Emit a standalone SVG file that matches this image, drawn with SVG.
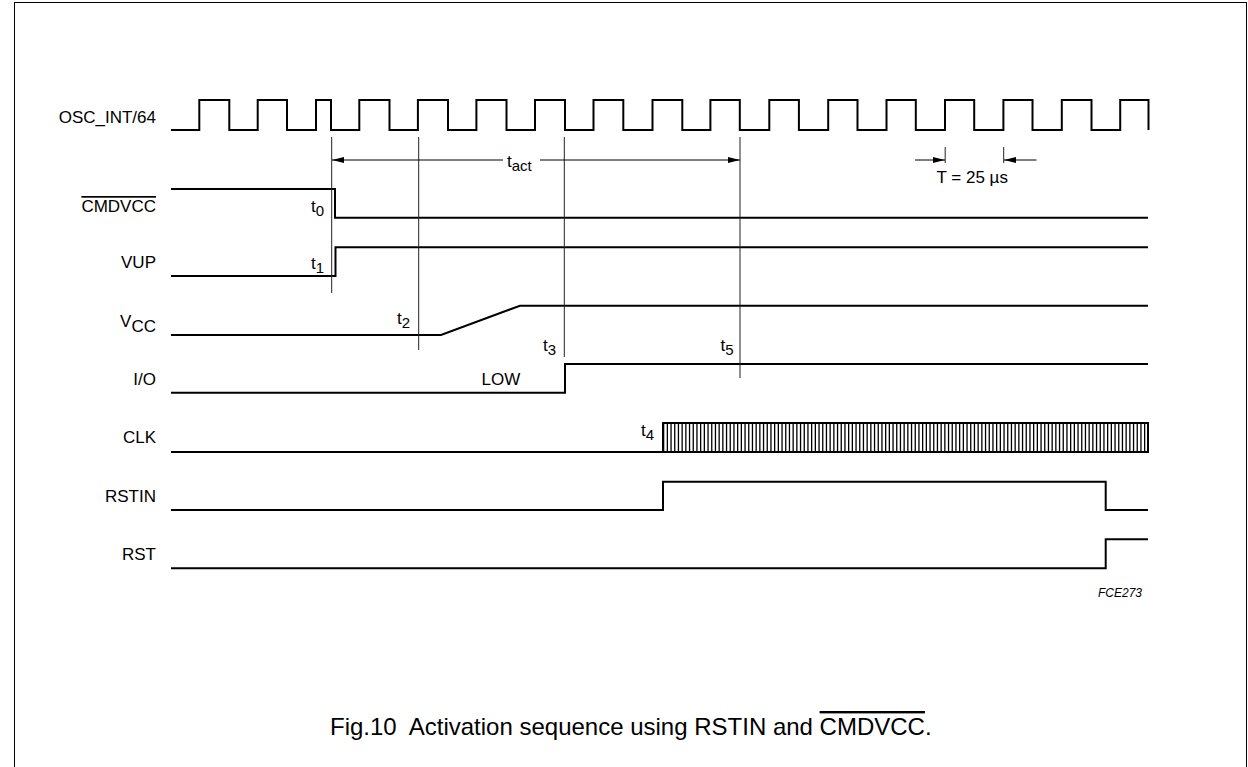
<svg xmlns="http://www.w3.org/2000/svg" width="1248" height="767" viewBox="0 0 1248 767">
<defs>
<style>
.sig{fill:none;stroke:#000;stroke-width:2;stroke-linejoin:miter}
.mk{fill:none;stroke:#222;stroke-width:1}
.lbl{font-family:"Liberation Sans",Arial,sans-serif;font-size:17px;fill:#000}
.r{text-anchor:end}
.ov{text-decoration:overline}
</style>
<marker id="ah" viewBox="0 0 12 6" refX="12" refY="3" markerWidth="12" markerHeight="6" markerUnits="userSpaceOnUse" orient="auto-start-reverse">
<path d="M0,0 L12,3 L0,6 Z" fill="#000"/>
</marker>
</defs>
<rect x="14.5" y="2.5" width="1232" height="800" fill="none" stroke="#000" stroke-width="1"/>

<g id="osc">
<text class="lbl r" x="156" y="123">OSC_INT/64</text>
<path class="sig" d="M171,130 H199.3 V100 H229.3 V130 H257.7 V100 H287 V130 H316 V100 H331 V130 H359.3 V100 H389.5 V130 H417.9 V100 H448 V130 H476.4 V100 H506.5 V130 H535 V100 H565 V130 H593.5 V100 H623.3 V130 H652.5 V100 H682.3 V130 H710.4 V100 H739.8 V130 H769.3 V100 H798.9 V130 H828.2 V100 H857.5 V130 H886.5 V100 H915.8 V130 H945 V100 H974.2 V130 H1003.4 V100 H1032.5 V130 H1061.8 V100 H1091.5 V130 H1120.2 V100 H1148.5 V130"/>
</g>

<g id="cmdvcc">
<text class="lbl r" x="156" y="212"><tspan class="ov">CMDVCC</tspan></text>
<path class="sig" d="M171,189 H335 V217.7 H1148"/>
<text class="lbl" x="311" y="212">t<tspan font-size="15" dy="4">0</tspan></text>
</g>

<g id="vup">
<text class="lbl r" x="156" y="268">VUP</text>
<path class="sig" d="M171,276 H335.5 V247.3 H1148"/>
<text class="lbl" x="311" y="269">t<tspan font-size="15" dy="4">1</tspan></text>
</g>

<g id="vcc">
<text class="lbl r" x="156" y="327">V<tspan dy="5">CC</tspan></text>
<path class="sig" d="M171,335 H441 L520,305.7 H1148"/>
<text class="lbl" x="397" y="324">t<tspan font-size="15" dy="4">2</tspan></text>
</g>

<g id="io">
<text class="lbl r" x="156" y="385">I/O</text>
<path class="sig" d="M171,392.7 H565 V364 H1148"/>
<text class="lbl" x="481.5" y="385">LOW</text>
<text class="lbl" x="543" y="351">t<tspan font-size="15" dy="4">3</tspan></text>
<text class="lbl" x="720.5" y="351">t<tspan font-size="15" dy="4">5</tspan></text>
</g>

<g id="clk">
<text class="lbl r" x="156" y="443">CLK</text>
<path class="sig" d="M171,452 H663"/>
<line x1="663" y1="437.5" x2="1148" y2="437.5" stroke="#000" stroke-width="29" stroke-dasharray="1.3 2.4"/>
<rect x="663" y="423" width="485" height="29" fill="none" stroke="#000" stroke-width="2"/>
<text class="lbl" x="641" y="436">t<tspan font-size="15" dy="4">4</tspan></text>
</g>

<g id="rstin">
<text class="lbl r" x="156" y="502">RSTIN</text>
<path class="sig" d="M171,510 H663 V481.7 H1105.7 V510 H1148"/>
</g>

<g id="rst">
<text class="lbl r" x="156" y="560">RST</text>
<path class="sig" d="M171,568.3 H1105.7 V539.3 H1148"/>
</g>

<g id="connectors">
<line class="mk" x1="331.7" y1="137" x2="331.7" y2="293"/>
<line class="mk" x1="418.7" y1="137" x2="418.7" y2="350"/>
<line class="mk" x1="564.3" y1="137" x2="564.3" y2="357"/>
<line class="mk" x1="740" y1="137" x2="740" y2="378"/>
<line class="mk" x1="945.2" y1="147" x2="945.2" y2="163"/>
<line class="mk" x1="1003.7" y1="147" x2="1003.7" y2="163"/>
<line x1="503" y1="160" x2="332" y2="160" stroke="#000" stroke-width="1" marker-end="url(#ah)"/>
<line x1="540" y1="160" x2="740" y2="160" stroke="#000" stroke-width="1" marker-end="url(#ah)"/>
<line x1="915" y1="160" x2="945" y2="160" stroke="#000" stroke-width="1" marker-end="url(#ah)"/>
<line x1="1036.5" y1="160" x2="1004" y2="160" stroke="#000" stroke-width="1" marker-end="url(#ah)"/>
<text class="lbl" x="507" y="167">t<tspan font-size="15" dy="4">act</tspan></text>
<text class="lbl" x="936.5" y="183">T = 25 µs</text>
</g>

<text x="1142" y="597" font-family="'Liberation Sans',Arial,sans-serif" font-size="12" font-style="italic" text-anchor="end">FCE273</text>
<text x="330" y="735" font-family="'Liberation Sans',Arial,sans-serif" font-size="24">Fig.10&#160; Activation sequence using RSTIN and <tspan class="ov">CMDVCC</tspan>.</text>
</svg>
